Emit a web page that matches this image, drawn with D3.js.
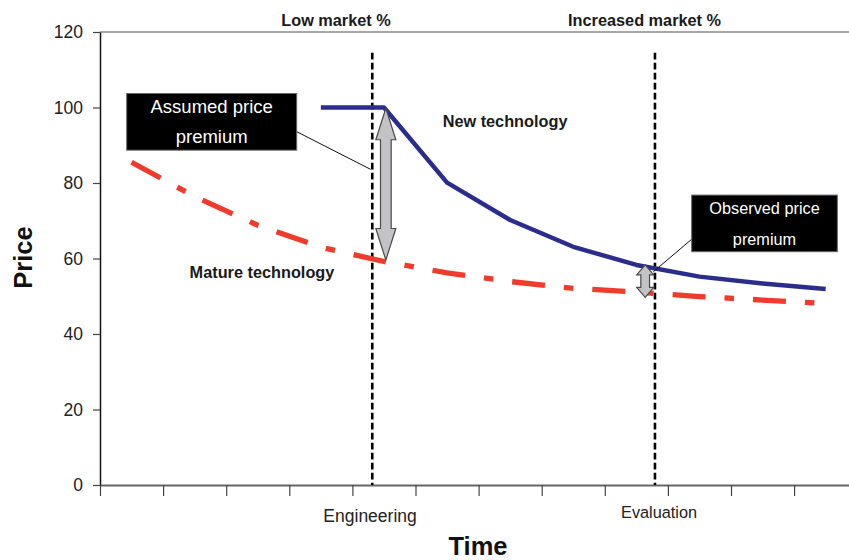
<!DOCTYPE html>
<html>
<head>
<meta charset="utf-8">
<script src="https://cdn.jsdelivr.net/npm/d3@7"></script>
<style>
  html, body { margin: 0; padding: 0; background: #fff; }
  svg { display: block; font-family: "Liberation Sans", Arial, sans-serif; }
</style>
</head>
<body>
<svg id="chart" width="849" height="560"></svg>
<script>
// Time periods along the horizontal axis (unlabelled steps)
const periods = ["t1", "t2", "t3", "t4", "t5", "t6", "t7", "t8", "t9", "t10", "t11", "t12"];

// Price of the new technology (enters the market in period 4)
const newTech = [null, null, null, 100, 100, 80.1, 70.2, 63.1, 58.3, 55.2, 53.4, 51.9];

// Price of the mature technology
const matureTech = [85.5, 76.4, 68.8, 63.0, 59.2, 56.2, 53.9, 52.1, 51.1, 49.9, 49.0, 48.1];

// Value axis ticks
const yTicks = [0, 20, 40, 60, 80, 100, 120];

// Phase markers (position in period units) and their labels
const phaseLines = [3.815, 8.295];
const phaseLabels = [
  { pos: 3.78, text: "Engineering", size: 17.5, baseline: 521.7 },
  { pos: 8.36, text: "Evaluation", size: 16.3, baseline: 518.3 }
];
const marketLabels = [
  { pos: 3.24, text: "Low market %" },
  { pos: 8.13, text: "Increased market %" }
];

const svg = d3.select("#chart");
const margin = { left: 100, top: 32, bottom: 485 };
const step = 63.1;

// Linear scale on period index; category centres at integer positions
const x = d3.scaleLinear()
  .domain([-0.5, periods.length - 0.5])
  .range([margin.left, margin.left + step * periods.length]);

const y = d3.scaleLinear()
  .domain([0, 120])
  .range([margin.bottom, margin.top]);

// Top frame line
svg.append("line")
  .attr("x1", x(-0.5)).attr("x2", x(periods.length - 0.5))
  .attr("y1", y(120)).attr("y2", y(120))
  .attr("stroke", "#8a8a8a").attr("stroke-width", 1.5);

// Y axis
const yAxis = svg.append("g")
  .attr("transform", `translate(${x(-0.5)},0)`)
  .call(d3.axisLeft(y).tickValues(yTicks).tickSizeInner(7).tickSizeOuter(0).tickPadding(10));
yAxis.select(".domain").attr("stroke", "#111").attr("stroke-width", 1.5);
yAxis.selectAll(".tick line").attr("stroke", "#444").attr("stroke-width", 1.2);
yAxis.selectAll(".tick text")
  .attr("font-size", 17.5)
  .attr("fill", "#222")
  .attr("font-family", "'Liberation Sans', Arial, sans-serif");

// X axis: ticks on period boundaries
const boundaries = periods.map((p, i) => i - 0.5).concat([periods.length - 0.5]);
const xAxis = svg.append("g")
  .attr("transform", `translate(0,${y(0)})`)
  .call(d3.axisBottom(x).tickValues(boundaries).tickFormat("").tickSizeInner(11).tickSizeOuter(0));
xAxis.select(".domain").attr("stroke", "#666").attr("stroke-width", 1.8);
xAxis.selectAll(".tick line").attr("stroke", "#444").attr("stroke-width", 1.2);

// Axis titles
svg.append("text")
  .attr("x", 478).attr("y", 555)
  .attr("text-anchor", "middle")
  .attr("font-size", 25.5).attr("font-weight", "bold").attr("fill", "#111")
  .text("Time");
svg.append("text")
  .attr("transform", "translate(31.5,257.5) rotate(-90)")
  .attr("text-anchor", "middle")
  .attr("font-size", 25.5).attr("font-weight", "bold").attr("fill", "#111")
  .text("Price");

// Phase labels below the axis
svg.selectAll(".phase-label").data(phaseLabels).enter().append("text")
  .attr("class", "phase-label")
  .attr("x", d => x(d.pos)).attr("y", d => d.baseline)
  .attr("text-anchor", "middle")
  .attr("font-size", d => d.size).attr("fill", "#222")
  .text(d => d.text);

// Market share labels above the frame
svg.selectAll(".market-label").data(marketLabels).enter().append("text")
  .attr("class", "market-label")
  .attr("x", d => x(d.pos)).attr("y", 25.5)
  .attr("text-anchor", "middle")
  .attr("font-size", 16.3).attr("font-weight", "bold").attr("fill", "#1a1a1a")
  .text(d => d.text);

// Vertical phase markers
svg.selectAll(".phase-line").data(phaseLines).enter().append("line")
  .attr("class", "phase-line")
  .attr("x1", d => x(d)).attr("x2", d => x(d))
  .attr("y1", y(114.5)).attr("y2", y(0))
  .attr("stroke", "#000").attr("stroke-width", 2.6)
  .attr("stroke-dasharray", "6.7,3.3");

// Price curves
const line = d3.line()
  .defined(d => d.v !== null)
  .x(d => x(d.i))
  .y(d => y(d.v));

const matureData = matureTech.map((v, i) => ({ i, v }));
const newData = newTech.map((v, i) => ({ i, v }));

svg.append("path")
  .datum(matureData)
  .attr("d", line)
  .attr("fill", "none")
  .attr("stroke", "#ee3b2b")
  .attr("stroke-width", 5.3)
  .attr("stroke-dasharray", "33,19,9.5,19");

svg.append("path")
  .datum(newData)
  .attr("d", line)
  .attr("fill", "none")
  .attr("stroke", "#2b2d8c")
  .attr("stroke-width", 4.5)
  .attr("stroke-linejoin", "round");

// Series labels
svg.append("text")
  .attr("x", x(4.93)).attr("y", 126.7)
  .attr("font-size", 16.3).attr("font-weight", "bold").attr("fill", "#1a1a1a")
  .text("New technology");
svg.append("text")
  .attr("x", x(0.92)).attr("y", 278.3)
  .attr("font-size", 16.3).attr("font-weight", "bold").attr("fill", "#1a1a1a")
  .text("Mature technology");

// Double-headed gap arrows
function doubleArrow(cx, yTop, yBot, headLen, headW, shaftW) {
  const hw = headW / 2, sw = shaftW / 2;
  return [
    [cx, yTop], [cx + hw, yTop + headLen], [cx + sw, yTop + headLen],
    [cx + sw, yBot - headLen], [cx + hw, yBot - headLen], [cx, yBot],
    [cx - hw, yBot - headLen], [cx - sw, yBot - headLen], [cx - sw, yTop + headLen],
    [cx - hw, yTop + headLen]
  ];
}
const gapArrows = [
  { pos: 4.03, top: newTech[4] - 0.2, bottom: 59.6, headLen: 31.5, headW: 20, shaftW: 10.7 },
  { pos: 8.14, top: 58.3, bottom: 49.7, headLen: 10, headW: 17, shaftW: 8.7 }
];
svg.selectAll(".gap-arrow").data(gapArrows).enter().append("polygon")
  .attr("class", "gap-arrow")
  .attr("points", d => doubleArrow(x(d.pos), y(d.top), y(d.bottom), d.headLen, d.headW, d.shaftW).join(" "))
  .attr("fill", "#c3c3c6")
  .attr("stroke", "#4a4a4a")
  .attr("stroke-width", 1.2)
  .attr("stroke-linejoin", "miter");

// Callout boxes with leader lines
const callouts = [
  { x0: -0.077, x1: 2.617, yTop: 103.7, yBot: 88.7, lines: ["Assumed price", "premium"],
    size: 18.5, base: [113.3, 143], lead: [[2.617, 93.6], [3.79, 83.6]] },
  { x0: 8.877, x1: 11.185, yTop: 76.8, yBot: 61.8, lines: ["Observed price", "premium"],
    size: 16.3, base: [214, 245], lead: [[8.877, 65.1], [8.27, 56.5]] }
];
const callG = svg.selectAll(".callout").data(callouts).enter().append("g").attr("class", "callout");
callG.append("line")
  .attr("x1", d => x(d.lead[0][0])).attr("y1", d => y(d.lead[0][1]))
  .attr("x2", d => x(d.lead[1][0])).attr("y2", d => y(d.lead[1][1]))
  .attr("stroke", "#111").attr("stroke-width", 1);
callG.append("rect")
  .attr("x", d => x(d.x0)).attr("y", d => y(d.yTop))
  .attr("width", d => x(d.x1) - x(d.x0)).attr("height", d => y(d.yBot) - y(d.yTop))
  .attr("fill", "#000").attr("stroke", "#666").attr("stroke-width", 1);
callG.each(function(d) {
  const g = d3.select(this);
  d.lines.forEach((t, k) => {
    g.append("text")
      .attr("x", (x(d.x0) + x(d.x1)) / 2).attr("y", d.base[k])
      .attr("text-anchor", "middle")
      .attr("font-size", d.size).attr("fill", "#fff")
      .text(t);
  });
});
</script>
</body>
</html>
